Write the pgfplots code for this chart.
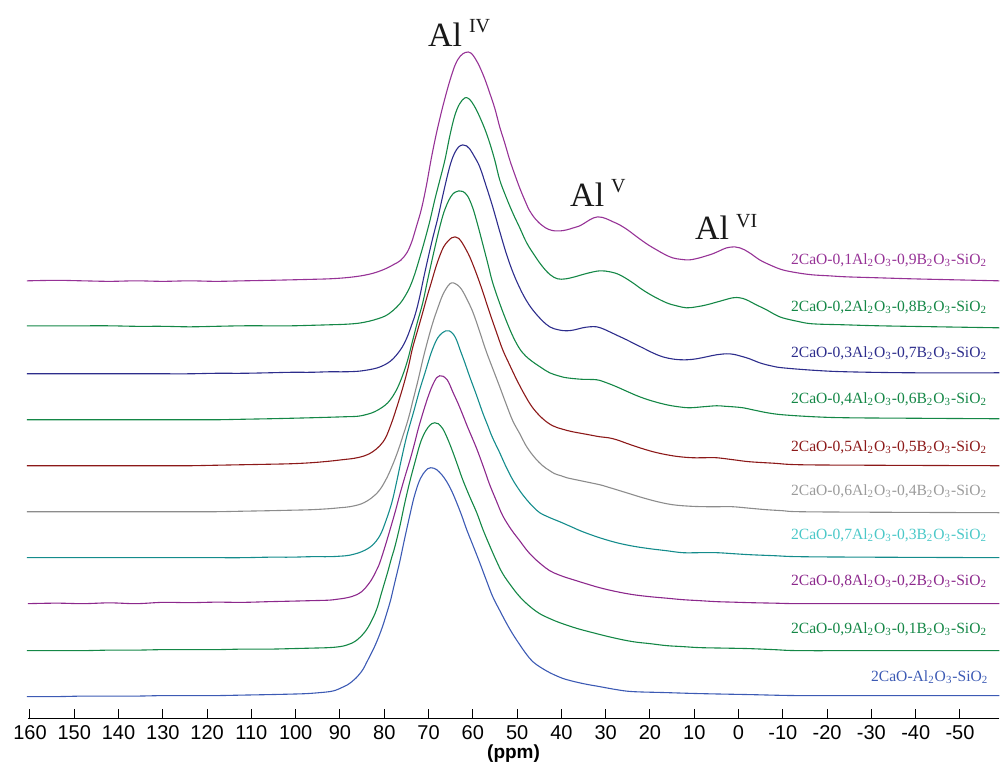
\documentclass[border=0pt]{standalone}
\usepackage{pgfplots}
\pgfplotsset{compat=1.18}
\usepackage{fontspec}
\setmainfont{Liberation Serif}
\newfontfamily\sansf{Liberation Sans}
\definecolor{cA}{RGB}{150,50,150}
\definecolor{cG}{RGB}{20,135,70}
\definecolor{cN}{RGB}{45,45,140}
\definecolor{cR}{RGB}{140,25,25}
\definecolor{cGr}{RGB}{140,140,140}
\definecolor{cGrL}{RGB}{155,155,155}
\definecolor{cT}{RGB}{20,140,140}
\definecolor{cTL}{RGB}{75,200,200}
\definecolor{cP}{RGB}{140,40,140}
\definecolor{cB}{RGB}{60,90,180}
\begin{document}
\begin{tikzpicture}
\begin{axis}[
  scale only axis, width=486.1pt, height=359.5pt,
  x dir=reverse, xmin=-58.9, xmax=160.5, ymin=46, ymax=765,
  axis x line*=bottom, axis y line=none,
  xtick={-50,-40,...,160}, minor xtick={},
  tick align=inside, major tick length=5pt,
  tick style={black, line width=0.5pt},
  axis line style={black, line width=0.6pt},
  /pgf/number format/assume math mode=true,
  xticklabel style={font=\sansf\fontsize{10}{11}\selectfont, yshift=0pt},
  xlabel={(ppm)},
  xlabel style={font=\sansf\bfseries\fontsize{9.5}{10}\selectfont, at={(axis description cs:0.5,0)}, anchor=base, yshift=-20pt},
  clip=false,
  every axis plot/.append style={line width=0.55pt, smooth, tension=0.6},
]
% invisible frame giving the picture its proportions
\path[draw=none] (axis cs:166.77,0) rectangle (axis cs:-58.9,765);
% 2CaO-0,1Al2O3-0,9B2O3-SiO2
\addplot[cA] coordinates {(160.7,484)(154,484.5)(148,484)(142,483.5)(136,484)(130,483.5)(124,484)(118,483.5)(112,484)(106,484.5)(101,485)(96.5,485.5)(92.5,486)(89,487)(86,488.5)(83.5,490.5)(81.5,493)(79.5,496.5)(77.8,500.5)(76.3,504.5)(74.9,512)(73.8,523)(72.7,539)(71.6,556)(70.5,579)(69.4,606)(68.3,630)(67.2,651)(66.1,670)(65.0,687)(63.9,701)(62.8,709)(61.7,712.5)(61.0,713)(60.3,711.5)(59.4,706)(58.44,698)(57.3,686)(56.19,672)(55.0,656)(53.93,638)(52.8,622)(51.67,605)(50.5,590)(49.42,577)(48.3,565)(47.16,554)(45.7,545)(44.22,539)(42.9,535.5)(41.52,534)(40.2,534)(38.81,535)(37.3,537)(35.88,539)(34.7,542)(33.62,545)(32.7,547)(31.81,548)(30.8,547.5)(29.78,546)(28.3,543)(26.85,540)(25.05,535)(23.7,530.5)(22.34,526)(20.4,520)(18.50,515)(16.7,510.5)(14.89,507)(13,505.5)(11.05,505)(8.79,507)(7.3,509)(5.86,511)(4.3,514)(2.70,517)(0.90,518)(-0.3,517)(-1.36,515)(-3,510.5)(-4.75,505)(-7.3,499.5)(-9.94,495)(-13.3,492)(-16.71,490)(-20.5,489)(-24.38,488)(-31.8,487)(-39.28,486)(-49,485)(-58.91,484)};
% 0,2
\addplot[cG] coordinates {(160.7,439)(154,439)(148,439)(142,439)(136,438.5)(130,438.5)(124,438)(118,438.5)(112,439)(106,439)(101,439)(96.5,439.5)(92.5,440)(89,440.5)(86,441.5)(83.5,443.5)(81.5,446)(79.7,449)(78.1,454)(76.5,461)(75.4,468)(74.2,478)(73.1,491)(72.0,507)(70.9,524)(69.7,544)(68.6,565)(67.5,584)(66.3,605)(65.2,629)(64.1,649)(63.0,661)(61.83,667)(61.0,666.5)(60.25,663)(59.3,656)(58.44,648)(57.3,636)(56.19,622)(55.0,604)(53.93,585)(52.5,568)(50.99,552)(49.4,537)(47.84,522)(46,509)(44.22,498)(42.5,490)(40.84,486)(39,486)(37.0,488)(34.2,491.5)(31.36,494)(29,493)(26.85,490)(24.2,483)(21.66,475)(19,468)(16.24,462)(14,459)(11.73,457)(9.5,458)(7.21,460)(4.3,463.5)(1.35,467)(-0.3,467)(-1.81,465)(-4,460)(-6.33,455)(-8.1,450.5)(-9.94,447)(-13.3,443.5)(-16.71,441)(-24,440)(-31.83,439)(-45,438)(-58.91,437)};
% 0,3
\addplot[cN] coordinates {(160.7,391)(154,391)(148,391)(142,391)(136,391)(130,391)(124,391)(118,391.5)(112,391.5)(106,392)(101,392.5)(96.5,392.5)(92.5,393)(89,393)(86,393.5)(83.5,395)(81.5,397)(79.9,400)(78.5,404)(77.2,410)(75.9,418)(74.8,428)(73.8,440)(72.9,452)(72.0,468)(71.1,487)(70.2,505)(69.1,526)(67.9,547)(66.8,569)(65.7,590)(64.9,603)(64.1,612)(63.2,618)(62.28,620)(61.4,619)(60.7,616)(59.6,608)(58.44,598)(57,579)(55.51,558)(53.9,533)(52.35,510)(50.9,492)(49.42,477)(48,465)(46.48,455)(44.5,445)(42.65,438)(40.7,435)(38.81,434)(37,435)(35.2,437)(33.6,438)(32.04,438)(30.6,436)(29.11,433)(27.2,429)(25.27,425)(23.5,421)(21.66,417)(19.4,412)(17.15,408)(14.4,405.5)(11.73,405)(9.5,406)(7.21,408)(5,410)(2.70,411)(1.2,410.5)(-0.23,409)(-2.5,406)(-4.75,402)(-7.3,399)(-9.94,397)(-17,394.5)(-24.38,393)(-39.28,392)(-58.91,392)};
% 0,4
\addplot[cG] coordinates {(160.7,345)(154,345)(148,345)(142,345)(136,345)(130,345)(124,345)(118,345)(112,345.5)(106,346)(101,346.5)(96.5,347)(92.5,347.5)(89,348)(86,348.5)(83.8,350.5)(82.2,353)(80.6,357)(79.2,362)(78.0,369)(76.9,378)(75.8,390)(74.7,405)(73.6,424)(72.5,443)(71.31,462)(70.2,485)(69.05,508)(67.9,530)(66.79,549)(65.9,560)(65.0,568)(64.1,572.5)(63.18,574)(62.3,573.5)(61.2,569)(60.02,557)(58.9,540)(57.77,521)(56.6,501)(55.51,482)(53.9,461)(52.35,443)(50.9,428)(49.42,416)(48,408.5)(46.48,403)(44.5,397)(42.65,392)(40.7,389)(38.81,387)(35.4,385.5)(32.04,385)(29.8,382)(27.53,378)(25,373)(22.34,368)(19.3,363.5)(16.24,360)(13.6,358)(11.05,357)(8,358)(4.96,359)(3.1,358.5)(1.35,358)(-1,357)(-3.17,355)(-6.5,352)(-9.94,350)(-17,348)(-24.38,347)(-40,346.5)(-58.91,346)};
% 0,5
\addplot[cR] coordinates {(160.7,299)(154,299)(148,299)(142,299)(136,299)(130,299)(124,299)(118,299.5)(112,300)(106,300.5)(101,301)(96.5,302)(92.5,303.5)(89.5,305)(86.7,306.5)(84.4,309)(82.6,313)(81.0,319)(79.7,327)(78.5,340)(77.5,353)(76.5,367)(75.5,382)(74.5,399)(73.6,417)(72.5,434)(71.4,451)(70.41,467)(69.4,482)(68.4,497)(67.47,509)(66.6,518)(65.66,523.5)(64.8,527)(64.0,528)(63.2,526.5)(62.4,522)(61.5,515)(60.7,508)(59.6,496)(58.44,482)(57.3,467)(56.19,452)(54.7,433)(53.25,415)(51.7,400)(50.09,385)(48.3,370)(46.48,357)(44.2,346)(41.97,339)(39.7,335.5)(37.46,333)(34.4,330.5)(31.36,328)(29.4,327)(27.53,325)(25,321)(22.34,317)(19.3,313)(16.24,310)(13.3,308)(10.37,307)(7.7,307)(4.96,307)(1.2,305)(-2.49,303)(-8,301.5)(-13.77,300)(-30,299.5)(-58.91,299)};
% 0,6
\addplot[cGr] coordinates {(160.7,253)(154,253)(148,253)(142,253)(136,253)(130,253)(124,253)(118,253)(112,253.5)(106,254)(101,254.5)(96.5,255)(92.5,256)(90,257)(87.8,258)(85.1,261)(82.8,267)(81.0,275)(79.4,287)(78.1,300)(77.3,309)(76.5,319)(75.7,330)(74.9,341)(74.2,352)(73.6,363)(72.4,384)(71.3,405)(70.2,424)(69.05,442)(67.9,457)(66.79,470)(65.6,479)(64.76,482)(63.9,481)(63.0,478)(62.2,473)(61.38,466)(60.2,455)(59.12,442)(58,427)(56.86,412)(55.4,395)(53.93,378)(52.5,361)(50.99,344)(49.4,331)(47.84,318)(46,307)(44.22,299)(42.8,294.5)(41.5,291)(40.1,289)(38.81,287)(35.1,283.5)(31.36,280)(29.4,277.5)(27.53,275)(24.6,271)(21.66,267)(18.3,263)(14.89,260)(11,258.5)(7.21,258)(4.3,258)(1.35,258)(-2.5,256.5)(-6.33,255)(-10,254)(-13.77,253)(-30,252.5)(-58.91,252)};
% 0,7
\addplot[cT] coordinates {(160.7,207)(154,207)(148,207)(142,207)(136,207)(130,207)(124,207)(118,207)(112,207)(106,207.5)(101,207.5)(96.5,208)(92.5,208)(90,208.5)(87.8,209.5)(85.1,213)(82.8,219)(81.0,229)(79.7,243)(78.3,262)(77.2,283)(76.1,306)(74.9,329)(73.3,354)(72.0,375)(70.8,392)(69.7,408)(68.8,419)(67.92,427)(66.9,432)(66.11,434)(65.3,434)(64.3,430)(63.6,424)(62.96,416)(61.8,402)(60.7,388)(59.2,370)(57.77,352)(56.7,340)(55.74,329)(54.8,320)(53.93,312)(52.5,298)(50.99,285)(49.4,274)(47.84,265)(46.4,258)(44.9,252)(42.6,247)(40.39,243)(37.8,238)(35.2,233)(31.4,227)(27.53,222)(23.8,218.5)(20.08,216)(16.3,214)(12.63,212)(8.8,212)(4.96,212)(1.2,211)(-2.49,210)(-8,209)(-13.77,208)(-30,207.5)(-58.91,207)};
% 0,8
\addplot[cP] coordinates {(160.45,161)(154,161.5)(148,161)(142,161.8)(136,161)(130,162.3)(124,162)(118,162.5)(112,162.3)(106,163)(101,163.5)(96.5,164)(92.5,164.5)(90.5,165.5)(88.9,166.5)(87.4,168)(86.2,170)(85.1,173)(84.2,177)(83.4,181.5)(82.6,187)(81.8,194)(81.0,202)(79.7,220)(78.3,241)(77.4,255)(76.5,270)(75.4,287)(74.24,304)(73.3,319)(72.44,334)(71.4,350)(70.41,364)(69.7,373)(69.05,380)(68.2,387)(67.5,389)(66.7,388.5)(65.8,385)(65.2,380)(64.54,373)(63.4,362)(62.28,350)(61.3,339)(60.25,328)(59.3,318)(58.44,308)(57.3,294)(56.19,280)(54.7,264)(53.25,249)(51.3,235)(49.42,224)(48,215.5)(46.48,208)(44.6,200.5)(42.65,194)(40.7,190)(38.81,187)(37,184.5)(35.2,182)(31.4,177)(27.53,173)(23.8,170)(20.08,168)(16.3,166.5)(12.63,165)(8.8,164)(4.96,163)(1.2,162.5)(-2.49,162)(-8,161.5)(-13.77,161)(-30,161)(-58.91,161)};
% 0,9
\addplot[cG] coordinates {(160.7,114)(154,114)(148,114)(142,114.5)(136,114.5)(130,115)(124,115)(118,115)(112,115.5)(106,115.5)(101,116)(96.5,116.5)(92.5,117)(90.0,118)(88.5,119.5)(87.3,121.5)(86.2,124.5)(85.3,128)(84.5,132)(83.7,137)(82.9,143.5)(82.1,151)(81.4,159.5)(80.8,169)(80.0,181)(79.2,193)(78.4,206)(77.6,218)(76.5,238)(75.4,261)(74.24,283)(73.1,302)(71.98,320)(71.1,330)(70.18,337)(69.3,341)(68.6,342)(67.8,341)(66.79,336)(65.7,326)(64.54,313)(63.4,299)(62.28,285)(60.7,268)(59.12,252)(57.7,235)(56.19,219)(54.7,204)(53.25,191)(51.3,178.5)(49.42,168)(47.2,158.5)(44.9,151)(42.6,146)(40.39,142)(36.7,136.5)(32.94,132)(28.4,127)(23.92,123)(20,121)(16.24,119)(12.5,118)(8.79,117)(3,116.5)(-2.49,116)(-8,115)(-13.77,114)(-30,114)(-58.91,114)};
% 2CaO-Al2O3-SiO2
\addplot[cB] coordinates {(160.7,68)(154,68)(148,68.5)(142,68.5)(136,68.5)(130,69)(124,69)(118,69)(112,69.5)(106,70)(101,70.5)(97.5,71)(94.5,72)(92.3,73)(90.9,74.5)(89.6,77)(88.4,79.5)(87.3,83)(86.4,86.5)(85.5,91)(84.7,96)(84.0,102)(83.2,109)(82.4,116)(81.6,124)(80.8,133)(80.1,142)(79.4,152)(78.6,164)(77.9,177)(77.2,190)(76.5,203)(75.4,226)(74.2,250)(73.3,267)(72.4,280)(71.8,286.5)(71.2,291)(70.2,296)(69.5,297)(68.8,296.5)(68.15,295)(67.0,290)(65.89,283)(64.8,274)(63.64,262)(62.5,249)(61.38,235)(59.9,218.5)(58.44,202)(57,185)(55.51,168)(53.9,154)(52.35,141)(50.9,130)(49.42,120)(48,111)(46.48,103)(44.6,97)(42.65,92)(40.7,88)(38.81,85)(35.1,81)(31.36,78)(27.6,75)(23.92,73)(16.4,72)(8.79,71)(-2.5,70)(-13.77,69)(-30,69)(-58.91,69)};
% labels
\begin{scope}[every node/.style={anchor=east, font=\fontsize{7.8}{9}\selectfont, inner sep=0pt}]
\node[text=cA]  at (axis cs:-56.2,505) {2CaO-0,1Al\textsubscript{2}O\textsubscript{3}-0,9B\textsubscript{2}O\textsubscript{3}-SiO\textsubscript{2}};
\node[text=cG]  at (axis cs:-56.2,458) {2CaO-0,2Al\textsubscript{2}O\textsubscript{3}-0,8B\textsubscript{2}O\textsubscript{3}-SiO\textsubscript{2}};
\node[text=cN]  at (axis cs:-56.2,412) {2CaO-0,3Al\textsubscript{2}O\textsubscript{3}-0,7B\textsubscript{2}O\textsubscript{3}-SiO\textsubscript{2}};
\node[text=cG]  at (axis cs:-56.2,365) {2CaO-0,4Al\textsubscript{2}O\textsubscript{3}-0,6B\textsubscript{2}O\textsubscript{3}-SiO\textsubscript{2}};
\node[text=cR]  at (axis cs:-56.2,317) {2CaO-0,5Al\textsubscript{2}O\textsubscript{3}-0,5B\textsubscript{2}O\textsubscript{3}-SiO\textsubscript{2}};
\node[text=cGrL] at (axis cs:-56.2,273) {2CaO-0,6Al\textsubscript{2}O\textsubscript{3}-0,4B\textsubscript{2}O\textsubscript{3}-SiO\textsubscript{2}};
\node[text=cTL] at (axis cs:-56.2,229) {2CaO-0,7Al\textsubscript{2}O\textsubscript{3}-0,3B\textsubscript{2}O\textsubscript{3}-SiO\textsubscript{2}};
\node[text=cP]  at (axis cs:-56.2,183) {2CaO-0,8Al\textsubscript{2}O\textsubscript{3}-0,2B\textsubscript{2}O\textsubscript{3}-SiO\textsubscript{2}};
\node[text=cG]  at (axis cs:-56.2,135) {2CaO-0,9Al\textsubscript{2}O\textsubscript{3}-0,1B\textsubscript{2}O\textsubscript{3}-SiO\textsubscript{2}};
\node[text=cB]  at (axis cs:-56.5,87) {2CaO-Al\textsubscript{2}O\textsubscript{3}-SiO\textsubscript{2}};
\end{scope}
\begin{scope}[every node/.style={anchor=base west, inner sep=0pt, text=black!90}]
\node at (axis cs:70.2,718) {\fontsize{17}{17}\selectfont Al\hspace{3.5pt}\raisebox{7pt}{\fontsize{10}{10}\selectfont IV}};
\node at (axis cs:38.1,558) {\fontsize{17}{17}\selectfont Al\hspace{3.5pt}\raisebox{7pt}{\fontsize{10}{10}\selectfont V}};
\node at (axis cs:9.9,525) {\fontsize{17}{17}\selectfont Al\hspace{3.5pt}\raisebox{6pt}{\fontsize{10}{10}\selectfont VI}};
\end{scope}
\end{axis}
\end{tikzpicture}
\end{document}
